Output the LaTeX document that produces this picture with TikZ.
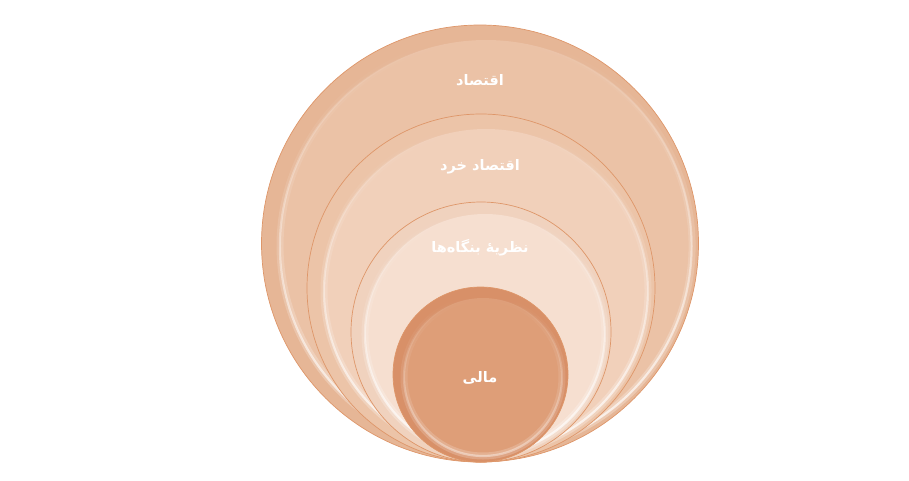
\documentclass[tikz,border=0pt]{standalone}
\usepackage{fontspec}
\usetikzlibrary{fadings}
\TeXXeTstate=1
\newfontfamily\arabicfont[Script=Arabic]{DejaVu Sans Bold}
\definecolor{rimA}{RGB}{222,150,105}
\definecolor{baseA}{RGB}{230,182,150}
\definecolor{innA}{RGB}{235,194,166}
\definecolor{baseB}{RGB}{236,196,168}
\definecolor{innB}{RGB}{241,208,186}
\definecolor{baseC}{RGB}{240,210,190}
\definecolor{innC}{RGB}{246,223,208}
\definecolor{baseD}{RGB}{216,144,104}
\definecolor{innD}{RGB}{222,158,120}
\tikzset{
  disk/.style={draw=rimA, line width=0.7pt},
  glow/.style={white, line width=7pt, opacity=0.3, path fading=north},
  gloss/.style={white, line width=2.2pt, opacity=0.75, path fading=north},
  lbl/.style={text=white, font=\arabicfont\fontsize{14.5}{18}\selectfont, inner sep=1pt}
}
\begin{document}
\begin{tikzpicture}[x=1pt,y=-1pt]
\useasboundingbox (0,0) rectangle (909,480);
% circle 1
\fill[disk, fill=baseA] (480,243.5) circle (218.5);
\fill[innA] (486,246) circle (206);
\draw[glow] (486,246) circle (206);
\draw[gloss] (486,246) circle (206);
% circle 2
\fill[disk, fill=baseB] (481,288) circle (174);
\fill[innB] (486,291) circle (162);
\draw[glow] (486,291) circle (162);
\draw[gloss] (486,291) circle (162);
% circle 3
\fill[disk, fill=baseC] (481,332) circle (130);
\fill[innC] (485,334) circle (120);
\draw[glow] (485,334) circle (120);
\draw[gloss] (485,334) circle (120);
% circle 4
\fill[disk, fill=baseD] (480.5,374.5) circle (87.5);
\fill[innD] (483,377) circle (79);
\draw[glow, opacity=0.2] (483,377) circle (79);
\draw[gloss, opacity=0.4] (483,377) circle (79);
% labels
\node[lbl] (t1) at (480,80) {\beginR اقتصاد\endR};
\node[lbl] (t2) at (480,167) {\beginR اقتصاد خرد\endR};
\node[lbl] (t3) at (480,248) {\beginR نظریهٔ بنگاه‌ها\endR};
\node[lbl] (t4) at (480,378) {\beginR مالی\endR};
\end{tikzpicture}
\end{document}
